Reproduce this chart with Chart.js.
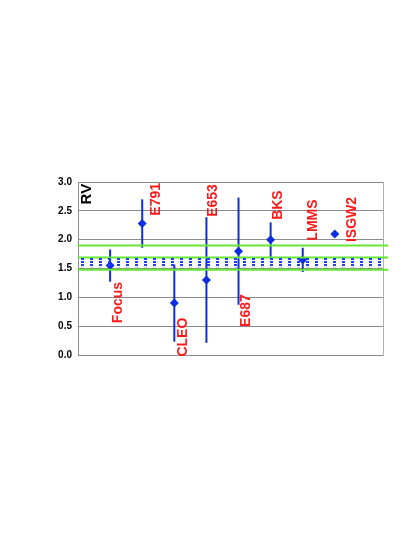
<!DOCTYPE html>
<html>
<head>
<meta charset="utf-8">
<script src="https://cdn.jsdelivr.net/npm/chart.js@4"></script>
<style>
  html, body { margin: 0; padding: 0; background: #fff; }
  #wrap { width: 415px; height: 537px; }
</style>
</head>
<body>
<div id="wrap"><canvas id="rv"></canvas></div>
<script>
// data ........................................................................
const experiments = ['Focus', 'E791', 'CLEO', 'E653', 'E687', 'BKS', 'LMMS', 'ISGW2'];
const rvValues    = [1.55, 2.28, 0.90, 1.30, 1.80, 2.00, 1.65, 2.10];
const rvErrors    = [0.28, 0.42, 0.67, 1.09, 0.93, 0.30, 0.21, 0];
const greenLevels = [1.90, 1.69, 1.48];
const bandRange   = [1.52, 1.69];
const yTicks      = [0, 0.5, 1, 1.5, 2, 2.5, 3];

// where the rotated names sit (data units)
const labelAt = [[1.25, 0.91], [2.43, 2.70], [3.27, 0.31], [4.20, 2.68],
                 [5.25, 0.77], [6.23, 2.60], [7.32, 2.34], [8.53, 2.35]];

const blue = '#0b2fe0';
const green = '#66e633';

// dotted fill for the band
function dotPattern() {
  let c = document.createElement('canvas');
  c.width = 9; c.height = 3;
  let g = c.getContext('2d');
  g.fillStyle = '#1f3cff';
  g.fillRect(0, 0, 3, 2);
  return g.createPattern(c, 'repeat');
}

let datasets = [];

// band
datasets.push({
  type: 'line',
  data: [{x: 0, y: bandRange[1]}, {x: 9.5, y: bandRange[1]}],
  fill: {value: bandRange[0]},
  backgroundColor: dotPattern(),
  borderWidth: 0,
  pointRadius: 0
});

// green reference lines
greenLevels.forEach(function(v){
  datasets.push({
    type: 'line',
    data: [{x: 0, y: v}, {x: 9.66, y: v}],
    borderColor: green,
    borderWidth: 2,
    pointRadius: 0,
    clip: {left: 0, top: 0, right: 8, bottom: 0}
  });
});

// error bars
for (let i = 0; i < rvValues.length; i++) {
  if (!rvErrors[i]) continue;
  datasets.push({
    type: 'line',
    data: [{x: i + 1, y: rvValues[i] - rvErrors[i]}, {x: i + 1, y: rvValues[i] + rvErrors[i]}],
    borderColor: blue,
    borderWidth: 2,
    pointRadius: 0
  });
}

// points
datasets.push({
  type: 'scatter',
  data: rvValues.map(function(v, i){ return {x: i + 1, y: v}; }),
  pointStyle: 'rectRot',
  pointRadius: 4.5,
  backgroundColor: blue,
  borderColor: blue,
  borderWidth: 0
});

const namesPlugin = {
  id: 'names',
  afterDatasetsDraw(chart) {
    const ctx = chart.ctx, xs = chart.scales.x, ys = chart.scales.y;
    ctx.save();
    ctx.textAlign = 'center';
    ctx.textBaseline = 'middle';
    experiments.forEach(function(name, i){
      ctx.save();
      ctx.translate(xs.getPixelForValue(labelAt[i][0]), ys.getPixelForValue(labelAt[i][1]));
      ctx.rotate(-Math.PI / 2);
      ctx.fillStyle = '#ff1a1a';
      ctx.font = 'bold 14px "Liberation Sans", Arial, sans-serif';
      ctx.fillText(name, 0, 0);
      ctx.restore();
    });
    ctx.save();
    ctx.translate(xs.getPixelForValue(0.28), ys.getPixelForValue(2.79));
    ctx.rotate(-Math.PI / 2);
    ctx.fillStyle = '#000';
    ctx.font = 'bold 15px "Liberation Sans", Arial, sans-serif';
    ctx.fillText('RV', 0, 0);
    ctx.restore();
    ctx.restore();
  }
};

new Chart(document.getElementById('rv'), {
  type: 'scatter',
  data: {datasets: datasets},
  plugins: [namesPlugin],
  options: {
    responsive: true,
    maintainAspectRatio: false,
    animation: false,
    layout: {padding: {left: 0, right: 32, top: 182, bottom: 182}},
    plugins: {legend: {display: false}, tooltip: {enabled: false}},
    scales: {
      x: {type: 'linear', min: 0, max: 9.5, display: false},
      y: {
        min: 0, max: 3,
        afterFit: function(s){ s.width = 78; },
        afterBuildTicks: function(s){ s.ticks = yTicks.map(function(v){ return {value: v}; }); },
        grid: {color: '#8c8c8c', lineWidth: 1, drawTicks: false},
        border: {color: '#8c8c8c', width: 1},
        ticks: {
          padding: 6,
          color: '#000',
          font: {family: '"Liberation Sans", Arial, sans-serif', size: 10, weight: 'bold'},
          callback: function(v){ return v.toFixed(1); }
        }
      },
      y2: {
        position: 'right',
        min: 0, max: 3,
        afterFit: function(s){ s.width = 0; },
        grid: {display: false, drawTicks: false},
        border: {color: '#b0b0b0', width: 1},
        ticks: {display: false}
      }
    }
  }
});
</script>
</body>
</html>
